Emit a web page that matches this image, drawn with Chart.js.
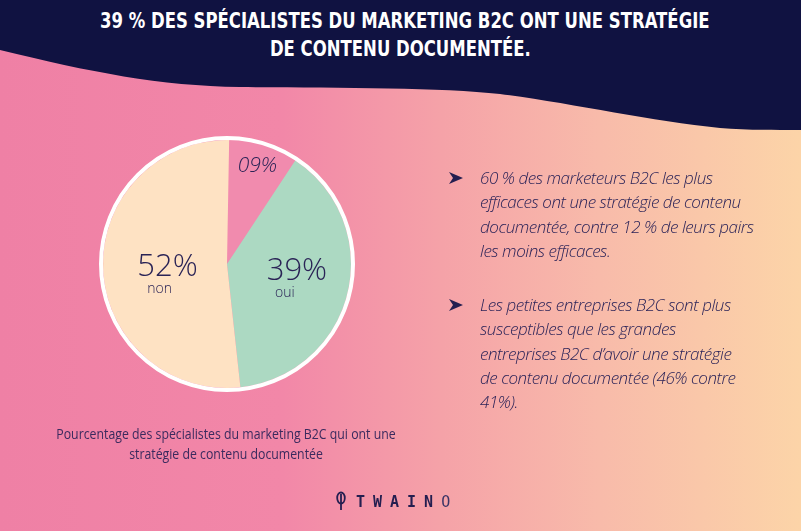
<!DOCTYPE html>
<html>
<head>
<meta charset="utf-8">
<script src="https://cdn.jsdelivr.net/npm/chart.js@4"></script>
<style>
  html,body{margin:0;padding:0;}
  body{width:801px;height:531px;position:relative;overflow:hidden;
    background:linear-gradient(to right,#EF80A5 0%,#F287A8 35%,#F5A2A8 55%,#F8BBAA 75%,#FCD4A8 100%);}
  #wave{position:absolute;left:0;top:0;}
  #title{position:absolute;left:0;top:7px;width:801px;text-align:center;color:#fff;
    font-family:"DejaVu Sans",sans-serif;font-weight:bold;font-size:22px;line-height:28px;white-space:nowrap;
    transform:scaleX(0.75);transform-origin:400px 0;}
  #chart{position:absolute;left:0;top:0;}
  .bul{position:absolute;left:480px;width:320px;color:#2B2358;font-family:"Open Sans",sans-serif;font-style:italic;font-weight:300;
    font-size:17px;line-height:24.3px;letter-spacing:-0.45px;white-space:nowrap;}
  .arrow{position:absolute;left:449px;width:14px;height:12px;}
  #caption{position:absolute;left:0px;width:452px;top:423px;text-align:center;color:#3A2A5E;
    font-family:"Open Sans",sans-serif;font-size:15px;line-height:20px;white-space:nowrap;
    transform:scaleX(0.82);transform-origin:226px 0;}
  #logo{position:absolute;left:336px;top:491px;height:22px;color:#241E50;font-family:"DejaVu Sans Mono",monospace;font-weight:bold;font-size:15px;letter-spacing:8px;white-space:nowrap;}
</style>
</head>
<body>
<svg id="wave" width="801" height="531">
  <path d="M0 0 H801 V130 C770 130 745 130 720 128 C650 121 570 103 500 94 C440 87 330 88 240 87 C160 86 90 72 0 50 Z" fill="#101241"/>
</svg>
<div id="title">39 % DES SPÉCIALISTES DU MARKETING B2C ONT UNE STRATÉGIE<br>DE CONTENU DOCUMENTÉE.</div>
<canvas id="chart" width="801" height="531"></canvas>
<svg class="arrow" style="top:172px" viewBox="0 0 14 12"><path d="M0 0 L14 6 L0 12 L4 6 Z" fill="#241E50"/></svg>
<div class="bul" style="top:166px">60 % des marketeurs B2C les plus<br>efficaces ont une stratégie de contenu<br>documentée, contre 12 % de leurs pairs<br>les moins efficaces.</div>
<svg class="arrow" style="top:299px" viewBox="0 0 14 12"><path d="M0 0 L14 6 L0 12 L4 6 Z" fill="#241E50"/></svg>
<div class="bul" style="top:293px">Les petites entreprises B2C sont plus<br>susceptibles que les grandes<br>entreprises B2C d’avoir une stratégie<br>de contenu documentée (46% contre<br>41%).</div>
<div id="caption">Pourcentage des spécialistes du marketing B2C qui ont une<br>stratégie de contenu documentée</div>
<div id="logo"><svg width="10" height="20" viewBox="0 0 10 20" style="vertical-align:-4px;margin-right:10px"><ellipse cx="5" cy="7" rx="3.8" ry="5.5" fill="none" stroke="#241E50" stroke-width="1.8"/><line x1="5" y1="3" x2="5" y2="19" stroke="#241E50" stroke-width="1.8"/></svg>TWAIN<span style="font-weight:normal;color:#3A3466">O</span></div>
<script>
const categories = ['', 'oui', 'non'];
const values = [9, 39, 52];
const valueLabels = ['09%', '39%', '52%'];
const colors = ['#F18BAE', '#ACD9C2', '#FEE2C3'];

const ringAndLabels = {
  id: 'ringAndLabels',
  afterDatasetsDraw(chart) {
    const ctx = chart.ctx;
    const meta = chart.getDatasetMeta(0);
    const a0 = meta.data[0];
    const cx = a0.x, cy = a0.y, r = a0.outerRadius;
    ctx.save();
    ctx.beginPath();
    ctx.arc(cx, cy, r + 2, 0, Math.PI * 2);
    ctx.strokeStyle = '#ffffff';
    ctx.lineWidth = 4;
    ctx.stroke();
    const fracs = [0.83, 0.58, 0.48];
    const dys = [0, -10, 0];
    const sizes = [21, 31, 31];
    const subDx = [0, -12, -8];
    meta.data.forEach((arc, i) => {
      const mid = (arc.startAngle + arc.endAngle) / 2;
      const d = r * fracs[i];
      const x = cx + Math.cos(mid) * d;
      const y = cy + Math.sin(mid) * d + dys[i];
      ctx.fillStyle = '#2A2356';
      ctx.textAlign = 'center';
      ctx.textBaseline = 'middle';
      ctx.font = (i === 0 ? 'italic ' : '') + '300 ' + sizes[i] + 'px "Open Sans", sans-serif';
      ctx.fillText(valueLabels[i], x, y);
      if (categories[i]) {
        ctx.font = '300 14px "Open Sans", sans-serif';
        ctx.fillText(categories[i], x + subDx[i], y + 22);
      }
    });
    ctx.restore();
  }
};

new Chart(document.getElementById('chart'), {
  type: 'pie',
  data: {
    labels: categories,
    datasets: [{
      data: values,
      backgroundColor: colors,
      borderWidth: 0
    }]
  },
  options: {
    responsive: false,
    animation: false,
    rotation: 1,
    layout: { padding: { left: 103, right: 450, top: 140, bottom: 143 } },
    plugins: { legend: { display: false }, tooltip: { enabled: false } }
  },
  plugins: [ringAndLabels]
});
</script>
</body>
</html>
